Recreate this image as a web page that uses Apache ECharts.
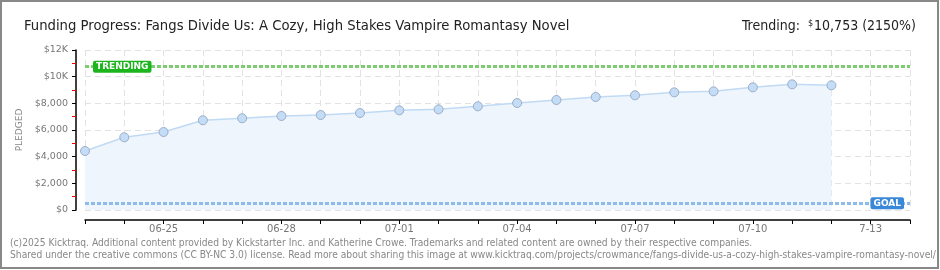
<!DOCTYPE html>
<html><head><meta charset="utf-8">
<script src="https://cdn.jsdelivr.net/npm/echarts@6/dist/echarts.min.js"></script>
<style>html,body{margin:0;padding:0;background:#fff}#c{width:940px;height:270px}</style>
</head><body><div id="c"></div>
<script>
const categories = ['06-23','06-24','06-25','06-26','06-27','06-28','06-29','06-30','07-01','07-02','07-03','07-04','07-05','07-06','07-07','07-08','07-09','07-10','07-11','07-12','07-13','07-14'];
const tickLabels = ['','','06-25','','','06-28','','','07-01','','','07-04','','','07-07','','','07-10','','','7-13',''];
const pledged = [4425,5450,5850,6730,6880,7050,7125,7275,7475,7550,7775,8025,8250,8475,8600,8825,8900,9200,9425,9350];
const trendingValue = 10753;
const goalValue = 500;
const yTicks = {0:'$0',2000:'$2,000',4000:'$4,000',6000:'$6,000',8000:'$8,000',10000:'$10K',12000:'$12K'};

const chart = echarts.init(document.getElementById('c'), null, {renderer:'canvas'});
const axisFont = 'DejaVu Sans';
const titleFont = 'DejaVu Sans Condensed';
chart.setOption({
  animation:false,
  title:[
    {text:'Funding Progress: Fangs Divide Us: A Cozy, High Stakes Vampire Romantasy Novel', left:19, top:14,
     textStyle:{fontFamily:titleFont, fontSize:14.7, fontWeight:'normal', color:'#222'}},
    {text:'{a|Trending:  }{s|$}{a|10,753 (2150%)}', right:19, top:14,
     textStyle:{fontWeight:'normal', rich:{a:{fontFamily:titleFont, fontSize:14, fontWeight:'normal', color:'#222'}, s:{fontFamily:titleFont, fontSize:9, fontWeight:'normal', color:'#222', verticalAlign:'top', padding:[0,1,6,0]}}}}
  ],
  graphic:[
    {type:'rect', shape:{x:1,y:1,width:937,height:267}, style:{fill:'none', stroke:'#888', lineWidth:2}, silent:true},
    {type:'text', left:10, top:238, style:{text:'(c)2025 Kicktraq. Additional content provided by Kickstarter Inc. and Katherine Crowe. Trademarks and related content are owned by their respective companies.', fontFamily:'DejaVu Sans Condensed', fontSize:10.2, fill:'#888'}},
    {type:'text', left:10, top:250, style:{text:'Shared under the creative commons (CC BY-NC 3.0) license. Read more about sharing this image at www.kicktraq.com/projects/crowmance/fangs-divide-us-a-cozy-high-stakes-vampire-romantasy-novel/', fontFamily:'DejaVu Sans Condensed', fontSize:10.2, fill:'#888'}}
  ],
  grid:{left:85, right:30, top:50, bottom:60},
  xAxis:{
    type:'category', data:categories, boundaryGap:false, offset:10,
    axisLine:{onZero:false, lineStyle:{color:'#000', width:1.5}},
    axisTick:{show:true, length:4, interval:0, lineStyle:{color:'#000'}},
    axisLabel:{interval:0, margin:4, fontFamily:axisFont, fontSize:10, color:'#777', formatter:(v,i)=>tickLabels[i]},
    splitLine:{show:true, interval:0, lineStyle:{color:'#e2e2e2', type:[6,4]}}
  },
  yAxis:{
    type:'value', min:0, max:12000, interval:2000, offset:9,
    name:'PLEDGED', nameLocation:'middle', nameGap:51, nameRotate:90,
    nameTextStyle:{fontFamily:axisFont, fontSize:9, color:'#888'},
    axisLine:{show:true, onZero:false, lineStyle:{color:'#000', width:1.5}},
    axisTick:{show:true, length:4, lineStyle:{color:'#000'}},
    minorTick:{show:true, splitNumber:2, length:4, lineStyle:{color:'#e00'}},
    axisLabel:{margin:8, fontFamily:axisFont, fontSize:9.5, color:'#777', formatter:v=>yTicks[v]},
    splitLine:{show:true, lineStyle:{color:'#e2e2e2', type:[6,4]}}
  },
  series:[{
    type:'line', data:pledged, symbol:'circle', symbolSize:9,
    lineStyle:{color:'#c0daf4', width:1.5},
    itemStyle:{color:'#c4dcf6', borderColor:'#9aaec8', borderWidth:1},
    areaStyle:{color:'#eef5fd', opacity:1},
    markLine:{silent:true, symbol:'none', label:{show:false},
      data:[
        {yAxis:trendingValue, lineStyle:{color:'#7ccd70', type:[4,2], width:3}},
        {yAxis:goalValue, lineStyle:{color:'#8dbbea', type:[4,2], width:3}}
      ]},
    markPoint:{silent:true, symbol:'rect', symbolSize:0,
      data:[
        {coord:['06-23', trendingValue], label:{show:true, position:'inside', align:'left', offset:[8,0], formatter:'TRENDING',
          backgroundColor:'#1db51d', color:'#fff', fontFamily:axisFont, fontSize:9, fontWeight:'bold', padding:[2,3,1,3], borderRadius:2}},
        {coord:['07-14', goalValue], label:{show:true, position:'inside', align:'right', offset:[-6,0], formatter:'GOAL',
          backgroundColor:'#3a88d8', color:'#fff', fontFamily:axisFont, fontSize:9, fontWeight:'bold', padding:[2,3,1,3], borderRadius:2}}
      ]}
  }]
});
</script></body></html>
